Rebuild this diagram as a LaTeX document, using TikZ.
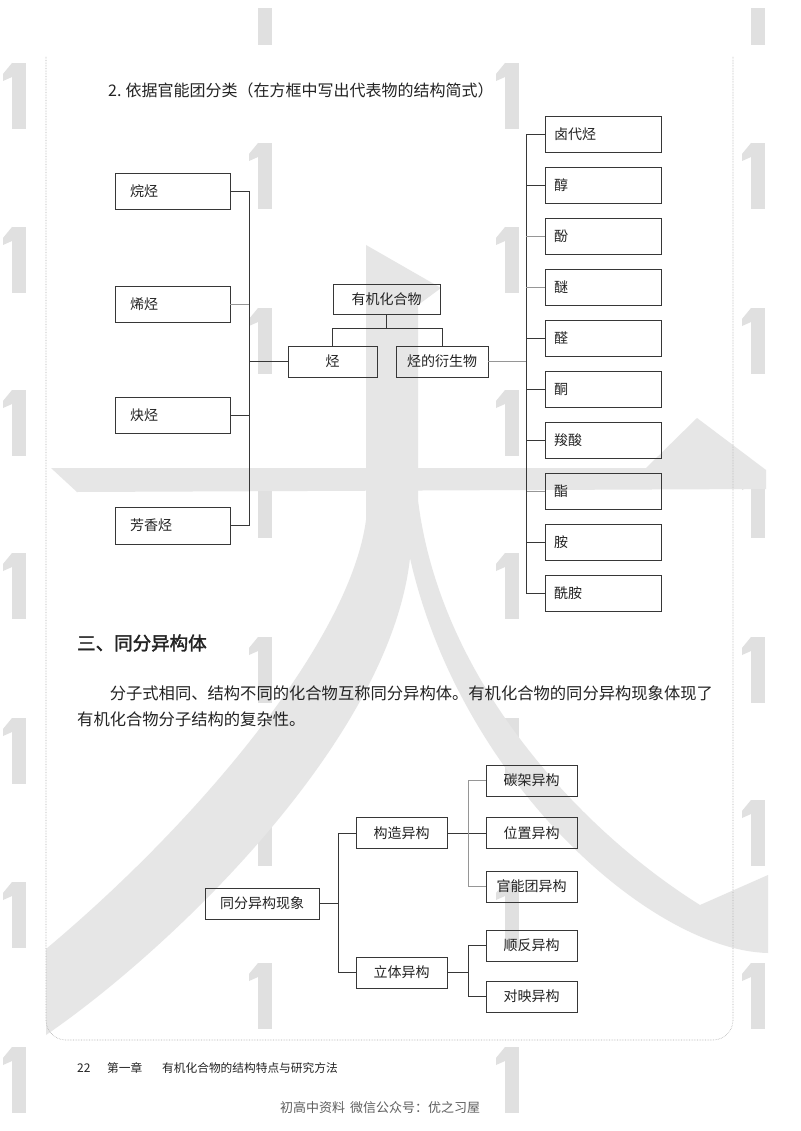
\documentclass[tikz,border=0pt]{standalone}
\usepackage{fontspec}
\setmainfont{Noto Sans CJK SC}
\newfontfamily\cjkbold[FakeBold=2]{Noto Sans CJK SC}
\definecolor{wm}{RGB}{230,230,230}
\definecolor{wmone}{RGB}{224,224,224}
\definecolor{ln}{RGB}{55,55,55}
\definecolor{lnl}{RGB}{150,150,150}
\definecolor{txt}{RGB}{35,35,35}
\definecolor{frm}{RGB}{175,175,175}
\tikzset{
  box/.style={draw=ln, line width=0.9pt, text=txt, inner sep=0pt, font=\fontsize{14}{16}\selectfont},
  lbox/.style={box, minimum width=115pt, minimum height=36pt, text width=85pt, inner xsep=15pt, align=left},
  rbox/.style={box, minimum width=116pt, minimum height=36pt, text width=98pt, inner xsep=9pt, align=left},
  conn/.style={draw=ln, line width=0.9pt},
  connl/.style={draw=lnl, line width=0.7pt},
  wmonestyle/.style={fill=wmone},
}
\begin{document}
\begin{tikzpicture}[x=1pt,y=-1pt]
\useasboundingbox (0,0) rectangle (800,1131);
\fill[white] (0,0) rectangle (800,1131);
% ---- watermark "1" glyphs
\foreach \x in {12,505}{
  \foreach \y in {63,227,390,553,718,882,1047}{
    \fill[wmonestyle] (\x,\y) rectangle ++(14,66);
    \fill[wmonestyle] (\x,\y) -- ++(-9,11) -- ++(0,7) -- ++(9,-4) -- cycle;
  }}
\foreach \x in {258,751}{
  \foreach \y in {143,308,472,637,800,963}{
    \fill[wmonestyle] (\x,\y) rectangle ++(14,66);
    \fill[wmonestyle] (\x,\y) -- ++(-9,11) -- ++(0,7) -- ++(9,-4) -- cycle;
  }
  \fill[wmonestyle] (\x,8) rectangle ++(14,37);
}
% ---- watermark big stroke shape
\fill[wm] (366,245) -- (441,288) -- (418,305) -- (418,480) -- (366,480) -- cycle;
\fill[wm] (51,468) -- (646,468) -- (697,418) -- (766,470) -- (766,489) -- (77,492) -- cycle;
\fill[wm] (366,480) -- (418,480) -- (418,500) .. controls (440,680) and (580,830) .. (700,905)
  -- (768,875) -- (768,953) .. controls (650,950) and (460,780) .. (410,558)
  .. controls (390,740) and (170,950) .. (46,1035)
  -- (46,949) .. controls (200,820) and (350,640) .. (366,520) -- cycle;
% ---- page frame
\draw[frm, line width=0.6pt, densely dotted, rounded corners=20pt] (46,57) -- (46,1040) -- (733,1040) -- (733,57);
% ---- title
\node[anchor=west, inner sep=0pt, text=txt, font=\fontsize{16}{18}\selectfont] (title) at (108,90) {2.\hspace{4pt}依据官能团分类（在方框中写出代表物的结构简式）};
% ---- first tree
\node[lbox] (alkane) at (172.5,191) {烷烃};
\node[lbox] (alkene) at (172.5,304) {烯烃};
\node[lbox] (alkyne) at (172.5,415) {炔烃};
\node[lbox, minimum height=37pt] (arom) at (172.5,525.5) {芳香烃};
\node[box, minimum width=107pt, minimum height=30pt] (org) at (386.5,299) {有机化合物};
\node[box, minimum width=89pt, minimum height=31pt] (hc) at (332.5,361.5) {烃};
\node[box, minimum width=92pt, minimum height=31pt] (der) at (442,361.5) {烃的衍生物};
\coordinate (lv) at (249,361.5);
\coordinate (tj) at (386.5,328);
\coordinate (rv) at (526,361.5);
\draw[conn] (alkane.east) -| (lv);
\draw[connl] (alkene.east) -- (alkene.east -| lv);
\draw[conn] (alkyne.east) -| (lv);
\draw[conn] (arom.east) -| (lv);
\draw[conn] (lv) -- (hc.west);
\draw[conn] (org.south) -- (tj);
\draw[conn] (hc.north) |- (tj);
\draw[conn] (der.north) |- (tj);
\draw[connl] (der.east) -- (rv);
\node[rbox] (r1) at (603,134) {卤代烃};
\node[rbox] (r2) at (603,185) {醇};
\node[rbox] (r3) at (603,236) {酚};
\node[rbox] (r4) at (603,287) {醚};
\node[rbox] (r5) at (603,338) {醛};
\node[rbox] (r6) at (603,389) {酮};
\node[rbox] (r7) at (603,440) {羧酸};
\node[rbox] (r8) at (603,491) {酯};
\node[rbox] (r9) at (603,542) {胺};
\node[rbox] (r10) at (603,593) {酰胺};
\draw[conn] (r1.west) -| (rv);
\draw[conn] (r2.west) -- (r2.west -| rv);
\draw[connl] (r3.west) -- (r3.west -| rv);
\draw[connl] (r4.west) -- (r4.west -| rv);
\draw[conn] (r5.west) -- (r5.west -| rv);
\draw[conn] (r6.west) -- (r6.west -| rv);
\draw[conn] (r7.west) -- (r7.west -| rv);
\draw[connl] (r8.west) -- (r8.west -| rv);
\draw[conn] (r9.west) -- (r9.west -| rv);
\draw[conn] (r10.west) -| (rv);
% ---- section heading and paragraph
\node[anchor=west, inner sep=0pt, text=txt, font=\cjkbold\fontsize{18.5}{20}\selectfont] (head) at (77,643) {三、同分异构体};
\node[anchor=west, inner sep=0pt, text=txt, font=\fontsize{16.3}{18}\selectfont] (p1) at (109.6,693) {分子式相同、结构不同的化合物互称同分异构体。有机化合物的同分异构现象体现了};
\node[anchor=west, inner sep=0pt, text=txt, font=\fontsize{16.3}{18}\selectfont] (p2) at (77,719) {有机化合物分子结构的复杂性。};
% ---- second tree
\node[box, minimum width=114pt, minimum height=31pt] (iso) at (262,903.5) {同分异构现象};
\node[box, minimum width=91pt, minimum height=31pt] (gz) at (401.5,833) {构造异构};
\node[box, minimum width=91pt, minimum height=31pt] (lt) at (401.5,972.5) {立体异构};
\node[box, minimum width=91pt, minimum height=31pt] (tjg) at (531.5,780.5) {碳架异构};
\node[box, minimum width=91pt, minimum height=31pt] (wz) at (531.5,833) {位置异构};
\node[box, minimum width=91pt, minimum height=31pt] (gn) at (531.5,886.5) {官能团异构};
\node[box, minimum width=91pt, minimum height=31pt] (sf) at (531.5,945.5) {顺反异构};
\node[box, minimum width=91pt, minimum height=31pt] (dy) at (531.5,996.5) {对映异构};
\coordinate (bj) at (338,903.5);
\coordinate (gj) at (468,833);
\coordinate (lj) at (468,972.5);
\draw[conn] (iso.east) -- (bj);
\draw[conn] (gz.west) -| (bj);
\draw[conn] (lt.west) -| (bj);
\draw[conn] (gz.east) -- (wz.west);
\draw[connl] (tjg.west) -| (gj);
\draw[connl] (gn.west) -| (gj);
\draw[conn] (lt.east) -- (lj);
\draw[conn] (sf.west) -| (lj);
\draw[conn] (dy.west) -| (lj);
% ---- footer
\node[anchor=west, inner sep=0pt, text=txt, font=\fontsize{12}{14}\selectfont] (pg) at (77,1068) {22};
\node[anchor=west, inner sep=0pt, text=txt, font=\fontsize{11.7}{14}\selectfont] (ch) at (107,1068) {第一章};
\node[anchor=west, inner sep=0pt, text=txt, font=\fontsize{11.7}{14}\selectfont] (chn) at (162,1068) {有机化合物的结构特点与研究方法};
\node[anchor=west, inner sep=0pt, text={rgb,255:red,95;green,95;blue,95}, font=\fontsize{13}{15}\selectfont] (src) at (280,1108) {初高中资料\hspace{5pt}微信公众号：优之习屋};
\end{tikzpicture}
\end{document}
